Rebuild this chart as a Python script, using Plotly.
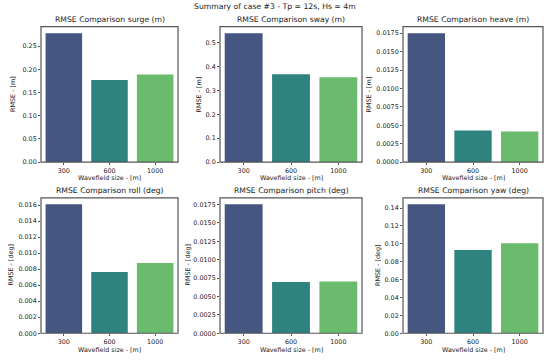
import plotly.graph_objects as go

categories = ["300", "600", "1000"]
surge = [0.278, 0.177, 0.189]
sway = [0.539, 0.367, 0.355]
heave = [0.0175, 0.00429, 0.00416]
roll = [0.0161, 0.00763, 0.00878]
pitch = [0.01755, 0.00697, 0.00705]
yaw = [0.1443, 0.0932, 0.1007]

titles = ["RMSE Comparison surge (m)", "RMSE Comparison sway (m)", "RMSE Comparison heave (m)",
          "RMSE Comparison roll (deg)", "RMSE Comparison pitch (deg)", "RMSE Comparison yaw (deg)"]
ylabels = ["RMSE - [m]"] * 3 + ["RMSE - [deg]"] * 3
xlabel = "Wavefield size - [m]"
suptitle = "Summary of case #3 - Tp = 12s, Hs = 4m"
series = [surge, sway, heave, roll, pitch, yaw]
tickfmt = [".2f", ".1f", ".4f", ".3f", ".4f", ".2f"]
dticks = [0.05, 0.1, 0.0025, 0.002, 0.0025, 0.02]
colors = ["#455681", "#2f837f", "#6bbb6e"]

W, H = 550, 360
cols_px = [(41, 178), (220, 362), (403, 543)]
rows_px = [(27, 164), (200, 337)]
ylab_x = [13.5, 199, 369, 11, 188, 377.5]

FONT = "DejaVu Sans"
TXT = "#222222"
LINE = "#555555"
fig = go.Figure()
annotations = []
shapes = []
for i, vals in enumerate(series):
    r, c = divmod(i, 3)
    ax = "" if i == 0 else str(i + 1)
    fig.add_trace(go.Bar(x=categories, y=vals, marker=dict(color=colors, line=dict(width=0)),
                         width=0.8, xaxis="x" + ax, yaxis="y" + ax, showlegend=False))
    x0, x1 = cols_px[c]
    y0, y1 = rows_px[r]
    common = dict(showline=False, ticks="outside",
                  ticklen=2, tickwidth=1, tickcolor=LINE, showgrid=False, zeroline=False,
                  tickfont=dict(family=FONT, size=6.4, color=TXT))
    fig.update_layout(**{
        "xaxis" + ax: dict(domain=[x0 / W, x1 / W], anchor="y" + ax, type="category",
                           range=[-0.5, 2.5], **common),
        "yaxis" + ax: dict(domain=[1 - y1 / H, 1 - y0 / H], anchor="x" + ax,
                           range=[0, max(vals) * 1.05], tickformat=tickfmt[i], dtick=dticks[i],
                           tick0=0, **common),
    })
    shapes.append(dict(type="rect", xref="x" + ax + " domain", yref="y" + ax + " domain",
                       x0=0, x1=1, y0=0, y1=1, line=dict(color=LINE, width=1.2),
                       fillcolor="rgba(0,0,0,0)", layer="above"))
    annotations.append(dict(text=titles[i], x=(x0 + x1) / 2 / W, y=1 - (y0 - 7) / H,
                            xref="paper", yref="paper", showarrow=False, xanchor="center",
                            yanchor="middle", font=dict(family=FONT, size=7.7, color=TXT)))
    annotations.append(dict(text=xlabel, x=(x0 + x1) / 2 / W, y=1 - (y1 + 16.5) / H,
                            xref="paper", yref="paper", showarrow=False, xanchor="center",
                            yanchor="middle", font=dict(family=FONT, size=6.4, color=TXT)))
    annotations.append(dict(text=ylabels[i], x=ylab_x[i] / W, y=1 - (y0 + y1) / 2 / H,
                            xref="paper", yref="paper", showarrow=False, xanchor="center",
                            yanchor="middle", textangle=-90,
                            font=dict(family=FONT, size=6.4, color=TXT)))

annotations.append(dict(text=suptitle, x=0.5, y=1 - 7 / H, xref="paper", yref="paper",
                        showarrow=False, xanchor="center", yanchor="middle",
                        font=dict(family=FONT, size=7.7, color=TXT)))

fig.update_layout(width=W, height=H, margin=dict(l=0, r=0, t=0, b=0),
                  paper_bgcolor="white", plot_bgcolor="white", annotations=annotations,
                  shapes=shapes, bargap=0.2)
fig.write_html("out.html", config={"displayModeBar": False, "staticPlot": True},
               post_script="document.body.style.margin='0';document.body.style.overflow='hidden';")
